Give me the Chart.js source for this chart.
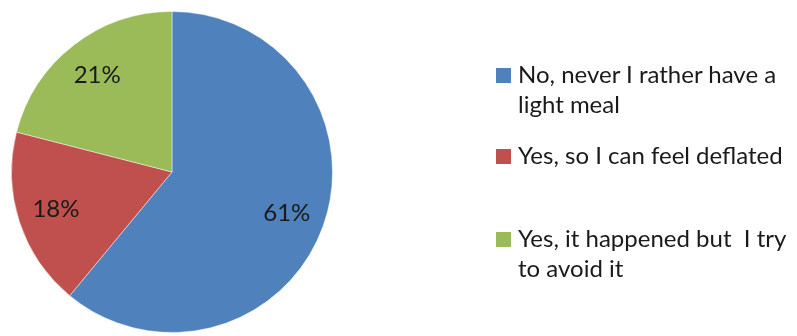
<!DOCTYPE html>
<html>
<head>
<meta charset="utf-8">
<script src="https://cdn.jsdelivr.net/npm/chart.js@4/dist/chart.umd.min.js"></script>
<style>
  html, body { margin: 0; padding: 0; background: #fff; overflow: hidden; }
  body { width: 797px; height: 336px; position: relative; font-family: Lato, "Liberation Sans", sans-serif; }
  #pieBox { position: absolute; left: 0; top: 0; width: 344px; height: 344px; }
  #legend { position: absolute; left: 0; top: 0; width: 797px; height: 336px; pointer-events: none; }
  .item { position: absolute; left: 518px; font-size: 24px; line-height: 30px; color: #1a1a1a; white-space: pre; }
  .item .sw { position: absolute; left: -22px; top: 9px; width: 15px; height: 15px; }
  .item:nth-child(1) { top: 59px; }
  .item:nth-child(2) { top: 140px; }
  .item:nth-child(3) { top: 223px; }
</style>
</head>
<body>
<div id="pieBox"><canvas id="pie"></canvas></div>
<div id="legend"></div>
<script>
// respuestas (líneas tal cual se muestran en la leyenda)
const labels = [
  ['No, never I rather have a', 'light meal'],
  ['Yes, so I can feel deflated'],
  ['Yes, it happened but  I try', 'to avoid it']
];
const values = [61, 18, 21];
const colors = ['#4F81BD', '#C0504D', '#9BBB59'];

// porcentajes dentro de cada sector
const pctLabels = {
  id: 'pctLabels',
  afterDatasetsDraw(chart) {
    const { ctx } = chart;
    const arcs = chart.getDatasetMeta(0).data;
    const total = values.reduce((a, b) => a + b, 0);
    ctx.save();
    ctx.font = '24px Lato, "Liberation Sans", sans-serif';
    ctx.fillStyle = '#1a1a1a';
    ctx.textAlign = 'center';
    ctx.textBaseline = 'middle';
    arcs.forEach((arc, i) => {
      const { x, y, startAngle, endAngle, outerRadius } = arc.getProps(['x', 'y', 'startAngle', 'endAngle', 'outerRadius'], true);
      const mid = (startAngle + endAngle) / 2;
      const r = outerRadius * 0.76;
      const txt = Math.round(values[i] / total * 100) + '%';
      ctx.fillText(txt, x + Math.cos(mid) * r, y + Math.sin(mid) * r);
    });
    ctx.restore();
  }
};

new Chart(document.getElementById('pie'), {
  type: 'pie',
  data: {
    labels,
    datasets: [{
      data: values,
      backgroundColor: colors,
      borderColor: 'rgba(255,255,255,0.45)',
      borderWidth: 1
    }]
  },
  options: {
    responsive: true,
    maintainAspectRatio: false,
    animation: false,
    layout: { padding: 11 },
    plugins: { legend: { display: false }, tooltip: { enabled: false } }
  },
  plugins: [pctLabels]
});

// leyenda a la derecha
const legend = document.getElementById('legend');
labels.forEach((lines, i) => {
  const it = document.createElement('div');
  it.className = 'item';
  const sw = document.createElement('span');
  sw.className = 'sw';
  sw.style.background = colors[i];
  it.appendChild(sw);
  it.appendChild(document.createTextNode(lines.join('\n')));
  legend.appendChild(it);
});
</script>
</body>
</html>
